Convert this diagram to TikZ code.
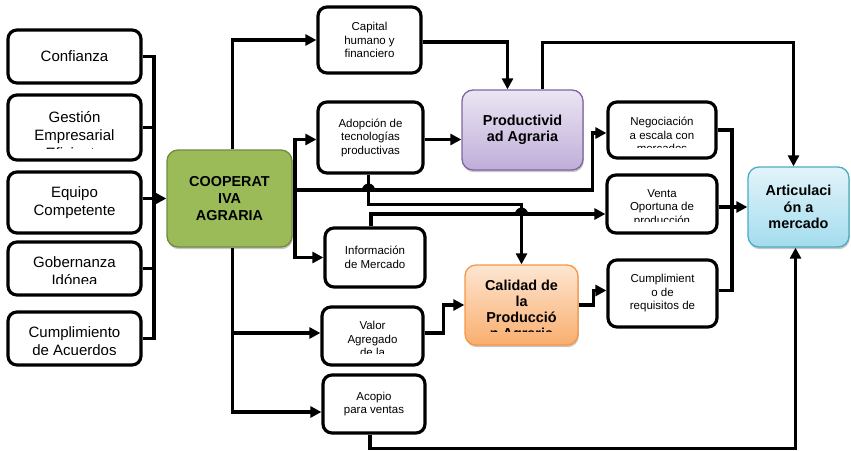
\documentclass[tikz,border=0pt]{standalone}
\usepackage{fontspec}
\setmainfont{Liberation Sans}
\usetikzlibrary{arrows.meta,shadows,calc}
\definecolor{coopfill}{HTML}{9BBB59}
\definecolor{coopline}{HTML}{71893F}
\definecolor{prodtop}{HTML}{EBE5F3}
\definecolor{prodbot}{HTML}{BFAED9}
\definecolor{prodline}{HTML}{8064A2}
\definecolor{caltop}{HTML}{FDE6D2}
\definecolor{calbot}{HTML}{F9AE6E}
\definecolor{calline}{HTML}{F79646}
\definecolor{arttop}{HTML}{E3F4FA}
\definecolor{artbot}{HTML}{A3DCEE}
\definecolor{artline}{HTML}{4BACC6}
\begin{document}
\begin{tikzpicture}[x=1pt,y=-1pt,
  box/.style={draw, line width=3.2pt, rounded corners=9pt, fill=white, inner sep=0pt},
  cbox/.style={line width=1.3pt, rounded corners=11pt, inner sep=0pt,
    drop shadow={shadow xshift=0.8pt, shadow yshift=-2.2pt, opacity=0.22, fill=black}},
  ltxt/.style={font=\fontsize{15}{18}\selectfont, align=center, inner sep=0pt},
  mtxt/.style={font=\fontsize{11.5}{13.5}\selectfont, align=center, inner sep=0pt},
  btxt/.style={font=\bfseries\fontsize{14.4}{16.6}\selectfont, align=center, inner sep=0pt},
  wire/.style={line width=3.2pt},
  arr/.style={wire, -{Triangle[length=11pt,width=11pt]}},
]
\useasboundingbox (0,0) rectangle (851,450);

% left column
\node[box, ltxt, minimum width=133, minimum height=53] (conf) at (74.5,56.5) {Confianza};
\node[box, minimum width=133, minimum height=65] (gest) at (74.5,127.5) {};
\node[box, ltxt, minimum width=133, minimum height=61] (equi) at (74.5,202.5) {Equipo\\Competente};
\node[box, minimum width=133, minimum height=53] (gobe) at (74.5,268.5) {};
\node[box, minimum width=133, minimum height=53] (cump) at (74.5,338.5) {};
\begin{scope}
  \clip (8,95) rectangle (141,148);
  \node[ltxt] (tgest) at (74.5,135) {Gestión\\Empresarial\\Eficiente};
\end{scope}
\begin{scope}
  \clip (8,242) rectangle (141,283);
  \node[ltxt] (tgobe) at (74.5,271.5) {Gobernanza\\Idónea};
\end{scope}
\begin{scope}
  \clip (8,312) rectangle (141,354);
  \node[ltxt] (tcump) at (74.5,341.5) {Cumplimiento\\de Acuerdos};
\end{scope}

% cooperativa
\node[cbox, btxt, draw=coopline, fill=coopfill, minimum width=125, minimum height=97] (coop) at (229.5,198.5) {COOPERAT\\IVA\\AGRARIA};

% middle column
\node[box, mtxt, minimum width=103, minimum height=66] (cap) at (369.5,40) {Capital\\humano y\\financiero};
\node[box, mtxt, minimum width=105, minimum height=71] (adop) at (370.5,137.5) {Adopción de\\tecnologías\\productivas};
\node[box, mtxt, minimum width=100, minimum height=59] (info) at (375,257.5) {Información\\de Mercado};
\node[box, minimum width=101, minimum height=58] (valor) at (372.5,336) {};
\node[box, mtxt, minimum width=102, minimum height=58] (acop) at (374,404) {Acopio\\para ventas};
\begin{scope}
  \clip (322,307) rectangle (423,353);
  \node[mtxt] (tvalor) at (372.5,339) {Valor\\Agregado\\de la};
\end{scope}

% productividad / calidad
\node[cbox, btxt, draw=prodline, top color=prodtop, bottom color=prodbot, minimum width=121, minimum height=80] (prod) at (522.5,130) {Productivid\\ad Agraria};
\node[cbox, draw=calline, top color=caltop, bottom color=calbot, minimum width=113, minimum height=80] (cal) at (521.5,305) {};
\begin{scope}
  \clip (465,265) rectangle (578,331);
  \node[btxt, font=\bfseries\fontsize{14.4}{16}\selectfont] (tcal) at (521.5,311) {Calidad de\\la\\Producció\\n Agraria};
\end{scope}

% right column
\node[box, minimum width=108, minimum height=56] (nego) at (662,130) {};
\node[box, minimum width=110, minimum height=58] (venta) at (662,204) {};
\node[box, mtxt, minimum width=109, minimum height=67] (cumr) at (662.5,293.5) {Cumplimient\\o de\\requisitos de};
\begin{scope}
  \clip (608,102) rectangle (716,147);
  \node[mtxt] (tnego) at (662,135) {Negociación\\a escala con\\mercados};
\end{scope}
\begin{scope}
  \clip (607,175) rectangle (717,221);
  \node[mtxt] (tventa) at (662,208) {Venta\\Oportuna de\\producción};
\end{scope}

\node[cbox, btxt, draw=artline, top color=arttop, bottom color=artbot, minimum width=101, minimum height=80] (art) at (798.5,207) {Articulaci\\ón a\\mercado};

% connectors
\coordinate (busL) at (154,0);
\coordinate (busM) at (295,0);
\coordinate (busR) at (732,0);
\coordinate (adopS) at ([xshift=-2pt]adop.south);
\coordinate (coopE) at ([yshift=8.5pt]coop.east);
\coordinate (ventaW) at ([yshift=-10pt]venta.west);
\draw[wire] (conf.east) -| (busL |- cump.east) -- (cump.east);
\draw[wire] (gest.east) -- (gest.east -| busL);
\draw[wire] (gobe.east) -- (gobe.east -| busL);
\draw[arr] (equi.east |- coop.west) -- (coop.west);

\draw[arr] ([xshift=3pt]coop.north) |- (cap.west);
\draw[arr] ([xshift=3pt]coop.south) |- ([yshift=3pt]valor.west);
\draw[arr] ([xshift=3pt]coop.south) |- ([yshift=-8pt]acop.west);
\draw[arr] (coop.east) -- (busM |- coop.east) |- ([yshift=-2pt]adop.west);
\draw[arr] (coop.east) -- (busM |- coop.east) |- (info.west);
\draw[arr] (coopE) -- ++(300,0) |- ([yshift=-3pt]nego.west);

\draw[arr] (adopS) -- ++(0,30) -| (cal.north);
\draw[arr] ([xshift=-4pt]info.north) |- (ventaW);
\draw[arr] (venta.east |- art.west) -- (art.west);
\draw[wire] (nego.east) -| (busR |- art.west);
\draw[wire] ([yshift=3pt]cumr.east) -| (busR |- art.west);

\draw[arr] ([yshift=-2pt]cap.east) -| ([xshift=-15pt]prod.north);
\draw[arr] ([yshift=-2pt]adop.east) -- ([yshift=-2pt]adop.east -| prod.west);
\draw[arr] ([xshift=20pt]prod.north) -- ++(0,-47) -| ([xshift=-5pt]art.north);
\draw[arr] ([xshift=-4pt]acop.south) -- ++(0,14) -| ([xshift=-3pt]art.south);
\draw[arr] ([yshift=3pt]valor.east) -- ++(19,0) |- (cal.west);
\draw[arr] (cal.east) -- ++(15,0) |- ([yshift=3pt]cumr.west);

% hops
\coordinate (hopA) at (coopE -| adopS);
\coordinate (hopB) at (ventaW -| cal.north);
\fill ($(hopA)+(-6.5,0)$) arc[start angle=180, end angle=360, radius=6.5] -- cycle;
\fill ($(hopB)+(-6.5,0)$) arc[start angle=180, end angle=360, radius=6.5] -- cycle;
\end{tikzpicture}
\end{document}
